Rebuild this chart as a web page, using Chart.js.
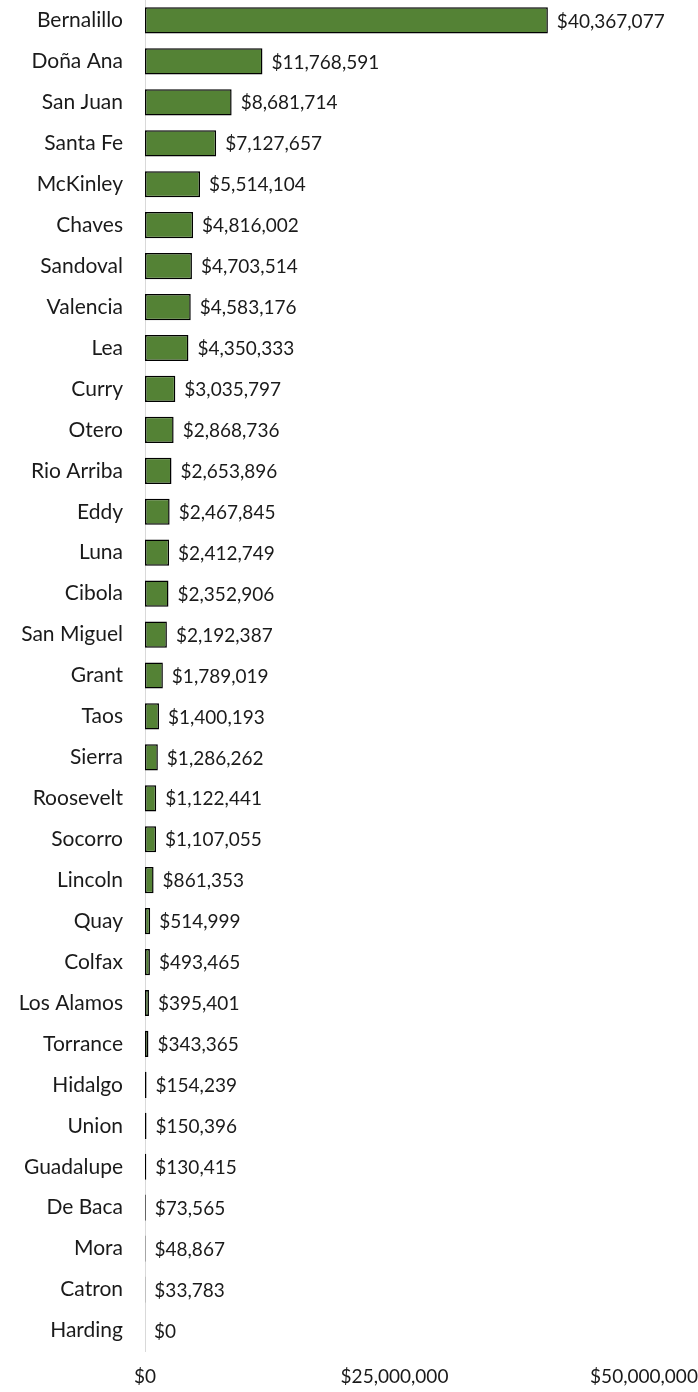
<meta charset="UTF-8" />
<style>
  html, body { margin: 0; padding: 0; background: #fff; }
  #wrap { width: 698px; height: 1392px; }
</style>
<div id="wrap">
  <canvas id="myChart"></canvas>
</div>
<script src="https://cdn.jsdelivr.net/npm/chart.js@4"></script>
<script>
// counties, top to bottom
const counties = ["Bernalillo", "Doña Ana", "San Juan", "Santa Fe", "McKinley", "Chaves",
  "Sandoval", "Valencia", "Lea", "Curry", "Otero", "Rio Arriba", "Eddy", "Luna", "Cibola",
  "San Miguel", "Grant", "Taos", "Sierra", "Roosevelt", "Socorro", "Lincoln", "Quay",
  "Colfax", "Los Alamos", "Torrance", "Hidalgo", "Union", "Guadalupe", "De Baca", "Mora",
  "Catron", "Harding"];

const amounts = [40367077, 11768591, 8681714, 7127657, 5514104, 4816002,
  4703514, 4583176, 4350333, 3035797, 2868736, 2653896, 2467845, 2412749, 2352906,
  2192387, 1789019, 1400193, 1286262, 1122441, 1107055, 861353, 514999,
  493465, 395401, 343365, 154239, 150396, 130415, 73565, 48867,
  33783, 0];

const xTicks = [0, 25000000, 50000000];

const fnt = "Lato, 'Open Sans', sans-serif";
const money = v => "$" + Math.round(v).toLocaleString("en-US");

// value labels at the end of each bar
const barLabels = {
  id: "barLabels",
  afterDatasetsDraw(chart) {
    const ctx = chart.ctx;
    const meta = chart.getDatasetMeta(0);
    ctx.save();
    ctx.font = "19px " + fnt;
    ctx.fillStyle = "#1a1a1a";
    ctx.textAlign = "left";
    ctx.textBaseline = "middle";
    meta.data.forEach(function(bar, i) {
      ctx.fillText(money(amounts[i]), bar.x + 9, bar.y + 1);
    });
    ctx.restore();
  }
};

const config = {
  type: "bar",
  data: {
    labels: counties,
    datasets: [{
      data: amounts,
      backgroundColor: "#548235",
      borderColor: "#000000",
      borderWidth: 1.5,
      borderSkipped: false,
      categoryPercentage: 1,
      barPercentage: 0.64
    }]
  },
  options: {
    indexAxis: "y",
    responsive: true,
    maintainAspectRatio: false,
    animation: false,
    layout: { padding: 0 },
    plugins: {
      legend: { display: false },
      tooltip: { enabled: false }
    },
    scales: {
      x: {
        min: 0,
        max: 50000000,
        afterBuildTicks: function(axis) {
          axis.ticks = xTicks.map(v => ({ value: v }));
        },
        grid: { display: false, drawTicks: false },
        border: { display: false },
        ticks: {
          padding: 14,
          maxRotation: 0,
          color: "#1a1a1a",
          font: { family: fnt, size: 19 },
          callback: v => money(v)
        },
        afterFit: function(axis) {
          axis.height = 41;
          axis.paddingLeft = 0;
          axis.paddingRight = 54;
        }
      },
      y: {
        grid: { display: false, drawTicks: false },
        border: { display: true, color: "#d9d9d9", width: 1 },
        ticks: {
          padding: 22,
          color: "#1a1a1a",
          font: { family: fnt, size: 21 }
        },
        afterFit: function(axis) {
          axis.width = 145;
          axis.paddingTop = 0;
          axis.paddingBottom = 0;
        }
      }
    }
  },
  plugins: [barLabels]
};

var myChart = new Chart(document.getElementById("myChart"), config);
</script>
